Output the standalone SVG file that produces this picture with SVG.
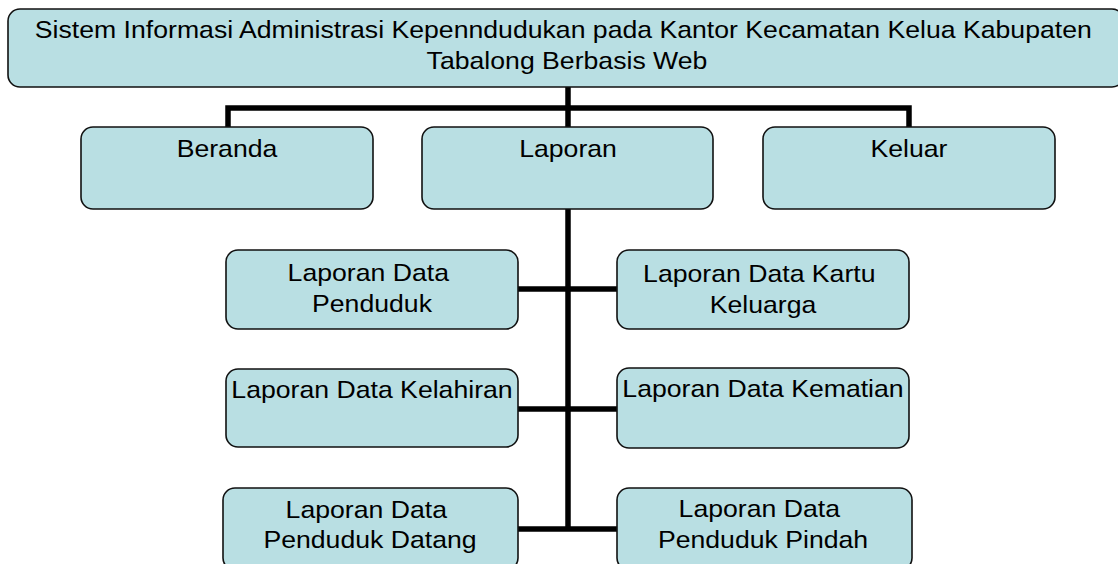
<svg xmlns="http://www.w3.org/2000/svg" width="1118" height="564" viewBox="0 0 1118 564">
  <style>
    .box { fill: #B9DFE3; stroke: #111; stroke-width: 1.6; }
    .lbl { font-family: "Liberation Sans", Arial, sans-serif; font-size: 24px; fill: #000; text-anchor: middle; }
    .wire { fill: none; stroke: #000; stroke-width: 5.5; stroke-linejoin: miter; stroke-linecap: butt; }
  </style>

  <!-- connectors -->
  <g id="connectors">
    <path class="wire" d="M568,87 V127"/>
    <path class="wire" d="M228,127 V108 H909 V127"/>
    <path class="wire" d="M568,209 V531"/>
    <path class="wire" d="M518,289 H617"/>
    <path class="wire" d="M518,409 H617"/>
    <path class="wire" d="M518,529 H617"/>
  </g>

  <!-- root -->
  <g id="root">
    <rect class="box" x="8" y="9" width="1116" height="78" rx="12"/>
    <text class="lbl" transform="translate(567,38) scale(1.11,1)">
      <tspan x="0" y="0">Sistem Informasi Administrasi Kepenndudukan pada Kantor Kecamatan Kelua Kabupaten</tspan>
      <tspan x="0" y="31">Tabalong Berbasis Web</tspan>
    </text>
  </g>

  <!-- first level -->
  <g id="beranda">
    <rect class="box" x="81" y="127" width="292" height="82" rx="12"/>
    <text class="lbl" transform="translate(227,157) scale(1.11,1)">Beranda</text>
  </g>
  <g id="laporan">
    <rect class="box" x="422" y="127" width="291" height="82" rx="12"/>
    <text class="lbl" transform="translate(568,157) scale(1.11,1)">Laporan</text>
  </g>
  <g id="keluar">
    <rect class="box" x="763" y="127" width="292" height="82" rx="12"/>
    <text class="lbl" transform="translate(909,157) scale(1.11,1)">Keluar</text>
  </g>

  <!-- report items -->
  <g id="lap-penduduk">
    <rect class="box" x="226" y="250" width="292" height="79" rx="12"/>
    <text class="lbl" transform="translate(372,281) scale(1.11,1)">
      <tspan x="0" y="0">Laporan Data</tspan>
      <tspan x="0" y="31">Penduduk</tspan>
    </text>
  </g>
  <g id="lap-kk">
    <rect class="box" x="617" y="250" width="292" height="79" rx="12"/>
    <text class="lbl" transform="translate(763,282) scale(1.11,1)">
      <tspan x="0" y="0">Laporan Data Kartu</tspan>
      <tspan x="0" y="31">Keluarga</tspan>
    </text>
  </g>
  <g id="lap-kelahiran">
    <rect class="box" x="226" y="369" width="292" height="78" rx="12"/>
    <text class="lbl" transform="translate(372,398) scale(1.11,1)">Laporan Data Kelahiran</text>
  </g>
  <g id="lap-kematian">
    <rect class="box" x="617" y="368" width="292" height="80" rx="12"/>
    <text class="lbl" transform="translate(763,397) scale(1.11,1)">Laporan Data Kematian</text>
  </g>
  <g id="lap-datang">
    <rect class="box" x="223" y="488" width="295" height="82" rx="12"/>
    <text class="lbl" transform="translate(370,518) scale(1.11,1)">
      <tspan x="0" y="0">Laporan Data</tspan>
      <tspan x="0" y="30">Penduduk Datang</tspan>
    </text>
  </g>
  <g id="lap-pindah">
    <rect class="box" x="617" y="488" width="295" height="82" rx="12"/>
    <text class="lbl" transform="translate(763,517) scale(1.11,1)">
      <tspan x="0" y="0">Laporan Data</tspan>
      <tspan x="0" y="31">Penduduk Pindah</tspan>
    </text>
  </g>
</svg>
